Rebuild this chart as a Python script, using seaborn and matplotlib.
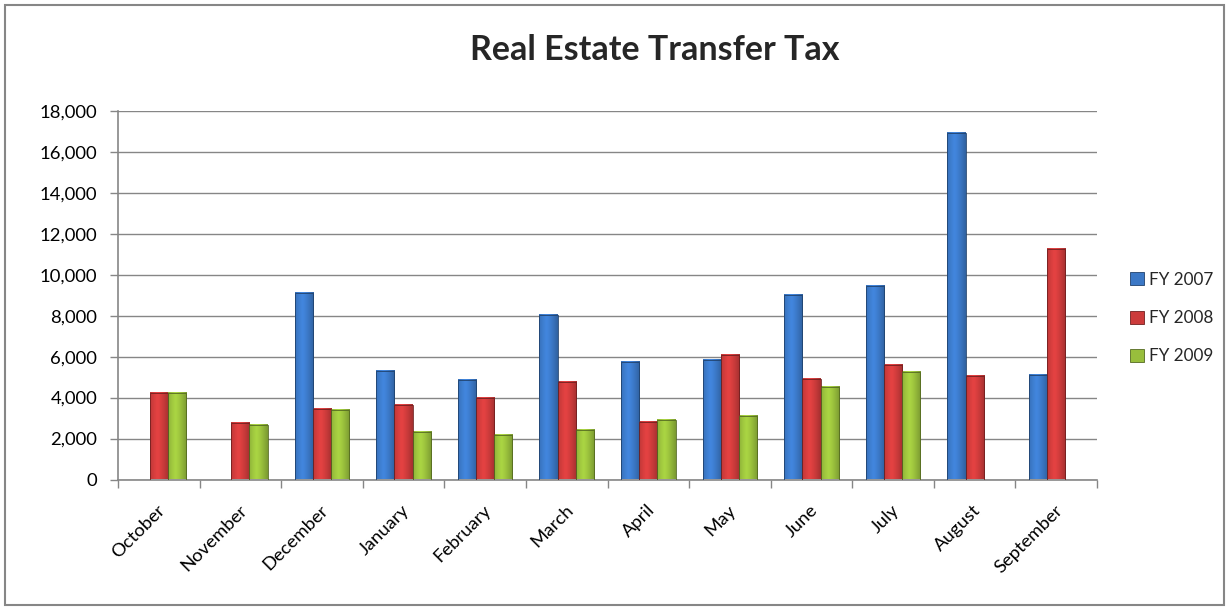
import numpy as np
import pandas as pd
import matplotlib
matplotlib.use("Agg")
import matplotlib.pyplot as plt
import matplotlib.colors as mcolors
import matplotlib.transforms as mtransforms
from matplotlib.patches import Rectangle
from matplotlib.ticker import FuncFormatter, FixedLocator
import seaborn as sns

months = ["October", "November", "December", "January", "February", "March",
          "April", "May", "June", "July", "August", "September"]
fy2007 = [0, 0, 9125, 5310, 4870, 8020, 5750, 5850, 9030, 9470, 16935, 5085]
fy2008 = [4235, 2770, 3450, 3620, 3990, 4740, 2800, 6080, 4905, 5590, 5035, 11260]
fy2009 = [4235, 2640, 3400, 2300, 2150, 2410, 2930, 3095, 4530, 5230, 0, 0]
series_names = ["FY 2007", "FY 2008", "FY 2009"]
y_ticks = [0, 2000, 4000, 6000, 8000, 10000, 12000, 14000, 16000, 18000]

df = pd.DataFrame({
    "Month": months * 3,
    "Value": fy2007 + fy2008 + fy2009,
    "Series": [s for s in series_names for _ in months],
})

sns.set_theme(style="white")
plt.rcParams["font.family"] = ["Lato", "DejaVu Sans"]

palette = {"FY 2007": "#3b78c6", "FY 2008": "#cc3b3b", "FY 2009": "#98be3c"}

fig = plt.figure(figsize=(12.29, 6.09), dpi=100)
ax = fig.add_axes([118 / 1229, 1 - 479.5 / 609, (1097 - 118) / 1229, (479.5 - 111) / 609])

sns.barplot(data=df, x="Month", y="Value", hue="Series", order=months,
            hue_order=series_names, palette=palette, width=0.67, gap=0.0,
            saturation=1, ax=ax, legend=False, zorder=3)

# cylinder-like horizontal shading on every bar
grad = np.linspace(0, 1, 64)
shade = 1 - 0.55 * np.abs(grad - 0.4) ** 1.3
for patch in list(ax.patches):
    h = patch.get_height()
    if h <= 0:
        patch.set_visible(False)
        continue
    x0, w, y0 = patch.get_x(), patch.get_width(), patch.get_y()
    base = np.array(mcolors.to_rgb(patch.get_facecolor()))
    img = np.clip(base[None, None, :] * shade[None, :, None] * 1.12, 0, 1)
    ax.imshow(img, extent=[x0, x0 + w, y0, y0 + h], aspect="auto",
              zorder=3.5, interpolation="bilinear")
    dark = np.clip(base * 0.55, 0, 1)
    patch.set_edgecolor(dark)
    patch.set_linewidth(0.6)
    patch.set_zorder(4)
    patch.set_facecolor("none")

ax.set_xlim(-0.5, len(months) - 0.5)
ax.set_ylim(0, 18000)
ax.yaxis.set_major_locator(FixedLocator(y_ticks))
ax.yaxis.set_major_formatter(FuncFormatter(lambda v, p: f"{int(v):,}"))
ax.grid(axis="y", color="#868686", linewidth=1.0, zorder=0)
ax.set_axisbelow(True)

for side in ["top", "right"]:
    ax.spines[side].set_visible(False)
for side in ["left", "bottom"]:
    ax.spines[side].set_color("#868686")
    ax.spines[side].set_linewidth(1.2)

ax.set_xlabel("")
ax.set_ylabel("")
ax.tick_params(axis="y", which="major", length=6, color="#868686", width=1,
               labelsize=13.3, pad=9, labelcolor="black", left=True)
ax.set_xticks(np.arange(len(months)))
ax.set_xticklabels(months, rotation=45, ha="right", rotation_mode="anchor")
ax.set_xticks(np.arange(len(months) + 1) - 0.5, minor=True)
ax.tick_params(axis="x", which="major", length=0, labelsize=13.3, pad=16,
               labelcolor="black")
ax.tick_params(axis="x", which="minor", length=6, color="#868686", width=1,
               bottom=True)
shift = mtransforms.ScaledTranslation(-2 / 100, 0, fig.dpi_scale_trans)
for lbl in ax.get_xticklabels():
    lbl.set_transform(lbl.get_transform() + shift)

fig.text(655 / 1229, 1 - 50 / 609, "Real Estate Transfer Tax", ha="center",
         va="center", fontsize=24.5, fontweight="bold")

handles = [Rectangle((0, 0), 1, 1, facecolor=palette[s],
                     edgecolor=np.clip(np.array(mcolors.to_rgb(palette[s])) * 0.55, 0, 1),
                     linewidth=0.6) for s in series_names]
fig.legend(handles, series_names, loc="center left",
           bbox_to_anchor=(1123 / 1229, 1 - 318 / 609), frameon=False,
           fontsize=12.3, handlelength=0.8, handleheight=0.8, handletextpad=0.3,
           labelspacing=1.3, borderaxespad=0)

fig.patches.append(Rectangle((5 / 1229, 4 / 609), 1 - 10 / 1229, 1 - 9 / 609,
                             transform=fig.transFigure, fill=False,
                             edgecolor="#868686", linewidth=1.5))

fig.savefig("out.png", dpi=100)
